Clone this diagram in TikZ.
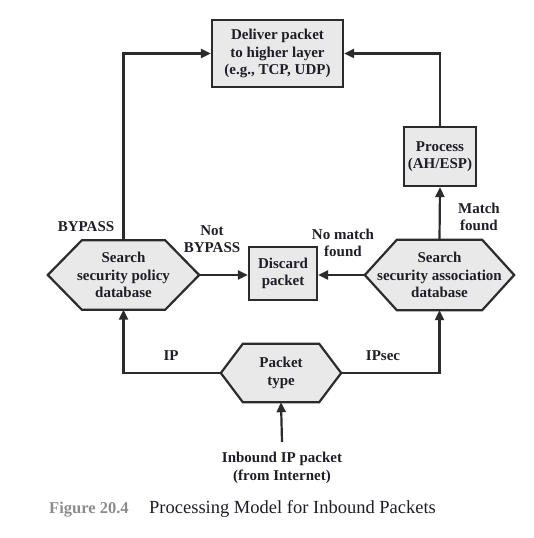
\documentclass[tikz,border=0pt]{standalone}
\usepackage{fontspec}
\setmainfont{Liberation Serif}
\usetikzlibrary{arrows.meta,backgrounds}
\definecolor{boxfill}{HTML}{E9E9E9}
\definecolor{linec}{HTML}{2B2B2B}
\definecolor{txt}{HTML}{1E1E28}
\definecolor{figgray}{HTML}{8C8C8C}
\tikzset{
  box/.style={draw=linec, line width=2.2pt, fill=boxfill, align=center, text=txt,
    font=\fontsize{15}{17.5}\selectfont\bfseries, inner sep=0pt},
  hexnode/.style={align=center, text=txt, inner sep=0pt,
    font=\fontsize{15}{17.5}\selectfont\bfseries},
  hexline/.style={draw=linec, line width=2.2pt, fill=boxfill, line join=miter},
  conn/.style={draw=linec, line width=2.2pt, -{Triangle[length=10pt,width=9pt]}},
  lbl/.style={align=center, text=txt, inner sep=0pt,
    font=\fontsize{15}{17.5}\selectfont\bfseries},
}
\newcommand{\hexdraw}[2]{%
  \path[hexline] (#1.west) -- ([xshift=#2]#1.north west) -- ([xshift=-#2]#1.north east)
   -- (#1.east) -- ([xshift=-#2]#1.south east) -- ([xshift=#2]#1.south west) -- cycle;}
\begin{document}
\begin{tikzpicture}[x=1pt,y=-1pt]
\useasboundingbox (0,0) rectangle (534,538);
% boxes
\node[box, minimum width=131pt, minimum height=67pt] (deliver) at (277.5,53.5)
  {Deliver packet\\to higher layer\\(e.g., TCP, UDP)};
\node[box, minimum width=72pt, minimum height=59pt] (process) at (440,156.5)
  {Process\\(AH/ESP)};
\node[box, minimum width=68pt, minimum height=53pt] (discard) at (283,273.5)
  {Discard\\packet};
% hexagons
\node[hexnode, minimum width=151pt, minimum height=69pt] (spd) at (123.5,275)
  {Search\\security policy\\database};
\node[hexnode, minimum width=149pt, minimum height=70pt] (sad) at (439.5,275)
  {Search\\security association\\database};
\node[hexnode, minimum width=120pt, minimum height=58pt] (ptype) at (281,373)
  {Packet\\type};
\begin{scope}[on background layer]
  \hexdraw{spd}{34pt}
  \hexdraw{sad}{32pt}
  \hexdraw{ptype}{22pt}
\end{scope}
% input
\node[lbl] (inbound) at (282,468) {Inbound IP packet\\(from Internet)};
\coordinate (instart) at (282,442);
\draw[conn] (instart) -- (ptype.south);
% packet type branches
\draw[conn] (ptype.west) -| (spd.south);
\draw[conn] (ptype.east) -| (sad.south);
\node[lbl] (ip) at (171,356) {IP};
\node[lbl] (ipsec) at (383,356) {IPsec};
% SPD outputs
\draw[conn] (spd.north) |- (deliver.west);
\draw[conn] (spd.east) -- (spd.east -| discard.west);
\node[lbl] (bypass) at (86,227) {BYPASS};
\node[lbl] (notbypass) at (212,239) {Not\\BYPASS};
% SAD outputs
\draw[conn] (sad.west) -- (sad.west -| discard.east);
\draw[conn] (sad.north) -- (process.south);
\draw[conn] (process.north) |- (deliver.east);
\node[lbl] (nomatch) at (343,243) {No match\\found};
\node[lbl] (match) at (479,217) {Match\\found};
% caption
\node[anchor=base west, inner sep=0pt, text=figgray, font=\fontsize{16.5}{19}\selectfont\bfseries] (figlbl) at (49,513) {Figure 20.4};
\node[anchor=base west, inner sep=0pt, text=txt, font=\fontsize{18.5}{21}\selectfont] (figcap) at (149,513) {Processing Model for Inbound Packets};
\end{tikzpicture}
\end{document}
